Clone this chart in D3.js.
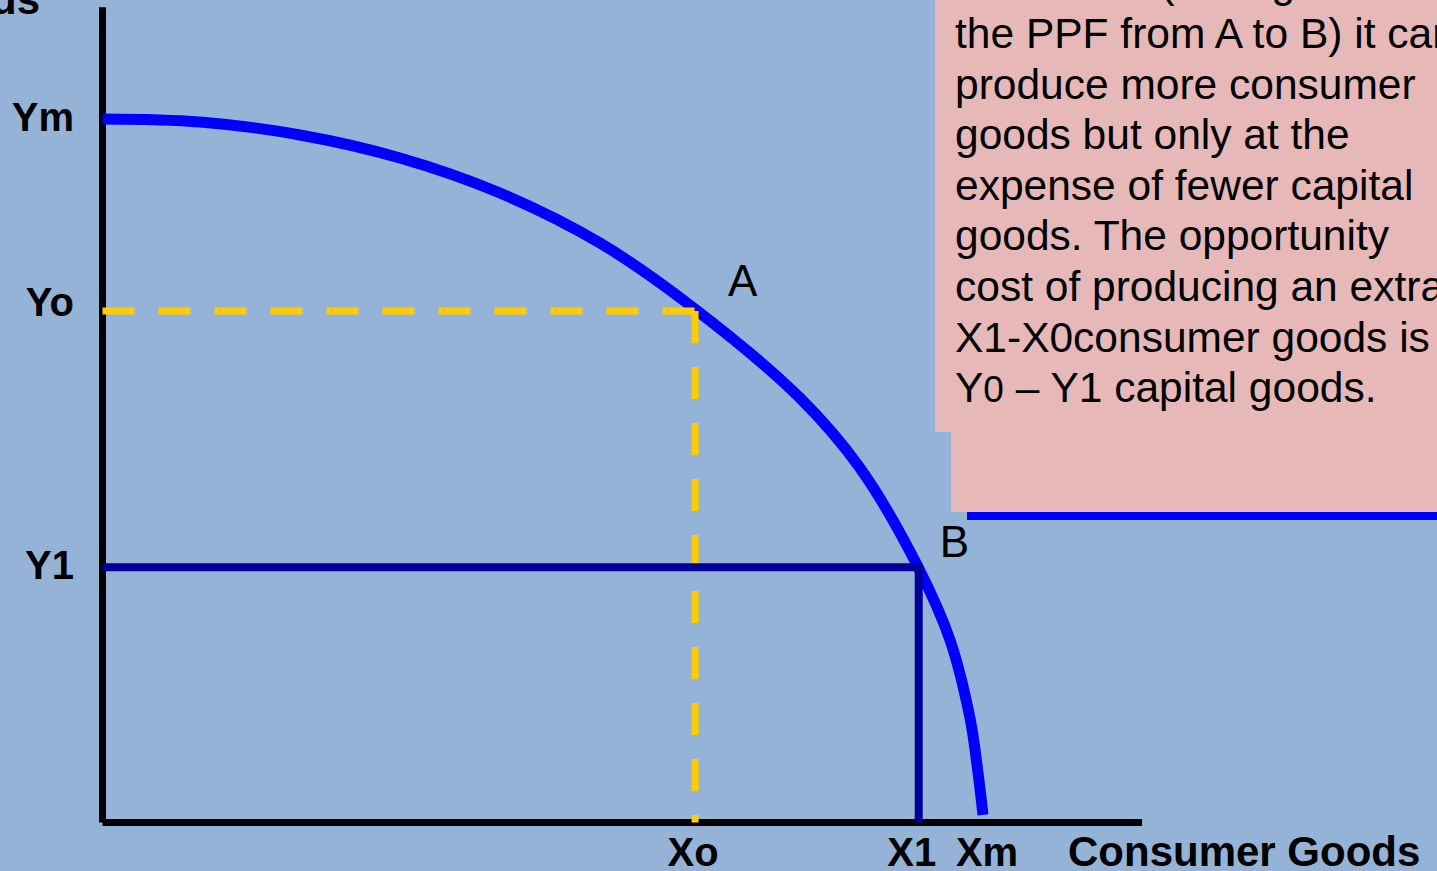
<!DOCTYPE html>
<html>
<head>
<meta charset="utf-8">
<script src="https://cdn.jsdelivr.net/npm/d3@7"></script>
<style>
  html, body { margin: 0; padding: 0; background: #95B3D7; overflow: hidden; }
  svg { display: block; }
</style>
</head>
<body>
<svg id="chart" width="1437" height="871"></svg>
<script>
// ---- data (arbitrary units 0..100) ----
const curveX = [0, 11.07, 22.43, 33.79, 45.14, 56.50, 67.29, 79.22, 86.03, 92.62, 96.25, 98.52, 99.32, 100];
const curveY = [100, 99.57, 97.73, 94.46, 89.48, 82.37, 72.99, 60.34, 50.39, 36.32, 25.94, 14.85, 8.17, 1.07];

const pointNames = ["A", "B"];
const pointX = [67.3, 92.7];
const pointY = [72.7, 36.3];

const xTickLabels = ["Xo", "X1", "Xm"];
const xTickValues = [67.3, 92.7, 100];
const yTickLabels = ["Ym", "Yo", "Y1"];
const yTickValues = [100, 72.7, 36.3];

const xAxisMax = 118.07;
const yAxisMax = 115.9;

const xAxisTitle = "Consumer Goods";
const yAxisTitle = "Capital Goods";

const noteLines = [
  "If it moves (sliding down",
  "the PPF from A to B) it can",
  "produce more consumer",
  "goods but only at the",
  "expense of fewer capital",
  "goods. The opportunity",
  "cost of producing an extra",
  "X1-X0consumer goods is",
  "Y0 – Y1 capital goods."
];

// ---- drawing ----
const svg = d3.select("#chart");
const W = 1437, H = 871;
const FONT = "'Liberation Sans', Arial, Helvetica, sans-serif";

const x = d3.scaleLinear().domain([0, 100]).range([102.5, 983]);
const y = d3.scaleLinear().domain([0, 100]).range([822.5, 119]);

svg.append("rect").attr("width", W).attr("height", H).attr("fill", "#95B3D7");

// note box
const note = svg.append("g");
note.append("rect").attr("x", 935).attr("y", 0).attr("width", W - 935).attr("height", 432).attr("fill", "#E6B8B7");
note.append("rect").attr("x", 951).attr("y", 431).attr("width", W - 951).attr("height", 81).attr("fill", "#E6B8B7");
note.append("rect").attr("x", 967).attr("y", 512).attr("width", W - 967).attr("height", 8).attr("fill", "#0000FF");

const noteText = note.selectAll("text.note").data(noteLines).join("text")
  .attr("class", "note")
  .attr("x", 955)
  .attr("y", (d, i) => 48 + (i - 1) * 50.6)
  .attr("font-family", FONT)
  .attr("font-size", 42.5)
  .attr("fill", "#000");
noteText.each(function (d) {
  const t = d3.select(this);
  if (d.startsWith("Y0")) {
    t.append("tspan").text("Y");
    t.append("tspan").attr("font-size", 37).text("0");
    t.append("tspan").text(d.slice(2));
  } else {
    t.text(d);
  }
});

// axes
svg.append("line")
  .attr("x1", x(0)).attr("x2", x(0))
  .attr("y1", y(yAxisMax)).attr("y2", y(0))
  .attr("stroke", "#000").attr("stroke-width", 7);
svg.append("line")
  .attr("x1", x(0)).attr("x2", x(xAxisMax))
  .attr("y1", y(0)).attr("y2", y(0))
  .attr("stroke", "#000").attr("stroke-width", 7);

// PPF curve
const pts = curveX.map((v, i) => [v, curveY[i]]);
const line = d3.line().x(d => x(d[0])).y(d => y(d[1])).curve(d3.curveCatmullRom.alpha(0.5));
svg.append("path")
  .attr("d", line(pts))
  .attr("fill", "none")
  .attr("stroke", "#0000FF")
  .attr("stroke-width", 11);

// point A dashed guides
svg.append("line")
  .attr("x1", x(0)).attr("x2", x(pointX[0]))
  .attr("y1", y(pointY[0])).attr("y2", y(pointY[0]))
  .attr("stroke", "#FFCC00").attr("stroke-width", 7)
  .attr("stroke-dasharray", "32,24");
svg.append("line")
  .attr("x1", x(pointX[0])).attr("x2", x(pointX[0]))
  .attr("y1", y(pointY[0])).attr("y2", y(0))
  .attr("stroke", "#FFCC00").attr("stroke-width", 7)
  .attr("stroke-dasharray", "32,24");

// point B solid guides
svg.append("path")
  .attr("d", `M${x(0)},${y(pointY[1])}H${x(pointX[1])}V${y(0)}`)
  .attr("fill", "none")
  .attr("stroke", "#000099")
  .attr("stroke-width", 8)
  .attr("stroke-linejoin", "miter");

// point labels
const ptOffsets = [[33, -15], [21, -10]];
svg.selectAll("text.pt").data(pointNames).join("text")
  .attr("class", "pt")
  .attr("x", (d, i) => x(pointX[i]) + ptOffsets[i][0])
  .attr("y", (d, i) => y(pointY[i]) + ptOffsets[i][1])
  .attr("font-family", FONT)
  .attr("font-size", 44)
  .attr("fill", "#000")
  .text(d => d);

// y tick labels
const yDy = [12, 5, 12];
svg.selectAll("text.ytick").data(yTickLabels).join("text")
  .attr("class", "ytick")
  .attr("x", 74)
  .attr("y", (d, i) => y(yTickValues[i]) + yDy[i])
  .attr("text-anchor", "end")
  .attr("font-family", FONT)
  .attr("font-weight", "bold")
  .attr("font-size", 40)
  .attr("fill", "#000")
  .text(d => d);

// x tick labels
const xDx = [-2, -7, 4];
svg.selectAll("text.xtick").data(xTickLabels).join("text")
  .attr("class", "xtick")
  .attr("x", (d, i) => x(xTickValues[i]) + xDx[i])
  .attr("y", 866)
  .attr("text-anchor", "middle")
  .attr("font-family", FONT)
  .attr("font-weight", "bold")
  .attr("font-size", 40)
  .attr("fill", "#000")
  .text(d => d);

// axis titles
svg.append("text")
  .attr("x", 1068).attr("y", 866)
  .attr("font-family", FONT).attr("font-weight", "bold").attr("font-size", 42)
  .attr("fill", "#000")
  .text(xAxisTitle);
svg.append("text")
  .attr("x", 40).attr("y", 14)
  .attr("text-anchor", "end")
  .attr("font-family", FONT).attr("font-weight", "bold").attr("font-size", 42)
  .attr("fill", "#000")
  .text(yAxisTitle);
</script>
</body>
</html>
